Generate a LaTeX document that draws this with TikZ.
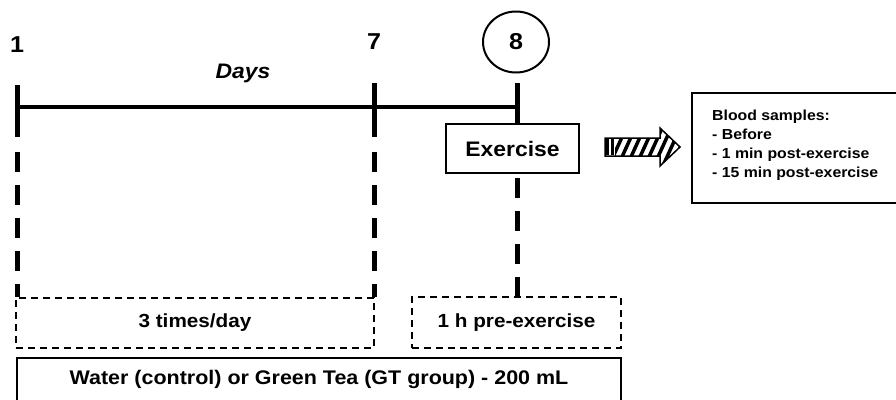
\documentclass[tikz,border=0pt]{standalone}
\usepackage{fontspec}
\setmainfont{Liberation Sans}
\usepackage{graphicx}
\usetikzlibrary{shapes.geometric}
\newcommand{\sx}[1]{\scalebox{1.09}[1]{#1}}
\begin{document}
\begin{tikzpicture}[x=1pt,y=-1pt,
  txt/.style={inner sep=0pt, font=\bfseries\fontsize{#1}{#1}\selectfont},
  tickline/.style={line width=5pt},
  axisline/.style={line width=4pt},
  thickdash/.style={line width=5pt, dash pattern=on 20pt off 13pt},
  thindash/.style={draw, line width=1.4pt, dash pattern=on 7pt off 5pt},
  solidbox/.style={draw, line width=2pt},
]
\useasboundingbox (0,0) rectangle (896,399);
\clip (0,0) rectangle (896,399);

% day labels
\node[txt=23] (n1) at (17,45) {\sx{1}};
\node[txt=23] (n7) at (374,42) {\sx{7}};
\node[txt=21] (days) at (243,73) {\itshape\sx{Days}};
\node[ellipse, draw, line width=2pt, minimum width=66pt, minimum height=61pt, txt=23] (c8) at (516,42) {\sx{8}};

% coordinates of the timeline
\coordinate (t1a) at (17,85);
\coordinate (t1b) at (17,137);
\coordinate (t1c) at (17,152);
\coordinate (t7a) at (374,83);
\coordinate (t7b) at (374,137);
\coordinate (t7c) at (374,152);
\coordinate (t8a) at (517,83);
\coordinate (t8c) at (517,178);
\coordinate (hL) at (17,107);
\coordinate (hR) at (517,107);

% boxes
\node[solidbox, minimum width=133pt, minimum height=49pt, txt=21] (ex) at (512.5,148.5) {\sx{Exercise}};
\node[thindash, minimum width=358pt, minimum height=50pt, txt=19] (b1) at (195,323) {\sx{3 times/day}};
\node[thindash, minimum width=209pt, minimum height=51pt, txt=19] (b2) at (516.5,322.5) {\sx{1 h pre-exercise}};
\node[solidbox, minimum width=604pt, minimum height=43pt, txt=19.7] (wb) at (319,379.5) {\sx{Water (control) or Green Tea (GT group) - 200 mL}};

% blood samples box
\node[draw, line width=1.5pt, minimum width=210pt, minimum height=110pt] (bb) at (797,148) {};
\node[anchor=north west, align=left, inner sep=0pt, font=\bfseries\fontsize{14.5}{19}\selectfont] (bt) at (712,109.5)
  {\sx{Blood samples:}\\\sx{- Before}\\\sx{- 1 min post-exercise}\\\sx{- 15 min post-exercise}};

% timeline
\draw[axisline] (hL) -- (hR);
\draw[tickline] (t1a) -- (t1b);
\draw[tickline] (t7a) -- (t7b);
\draw[tickline] (t8a) -- (t8a |- ex.north);
\draw[thickdash] (t1c) -- (t1c |- b1.north);
\draw[thickdash] (t7c) -- (t7c |- b1.north);
\draw[thickdash] (t8c) -- (t8c |- b2.north);

% hatched arrow
\begin{scope}
  \clip (615,120) rectangle (690,175);
  \clip (605,138) -- (660,138) -- (660,128) -- (680,147) -- (660,166) -- (660,156) -- (605,156) -- cycle;
  \foreach \x in {598,607,...,690} \draw[line width=3.5pt] (\x,170) -- (\x+21,124);
\end{scope}
\fill (606,139) rectangle (609,155);
\fill (611,139) rectangle (614,155);
\draw[line width=1.5pt, line join=miter] (605,138) -- (660,138) -- (660,128) -- (680,147) -- (660,166) -- (660,156) -- (605,156) -- cycle;
\end{tikzpicture}
\end{document}
